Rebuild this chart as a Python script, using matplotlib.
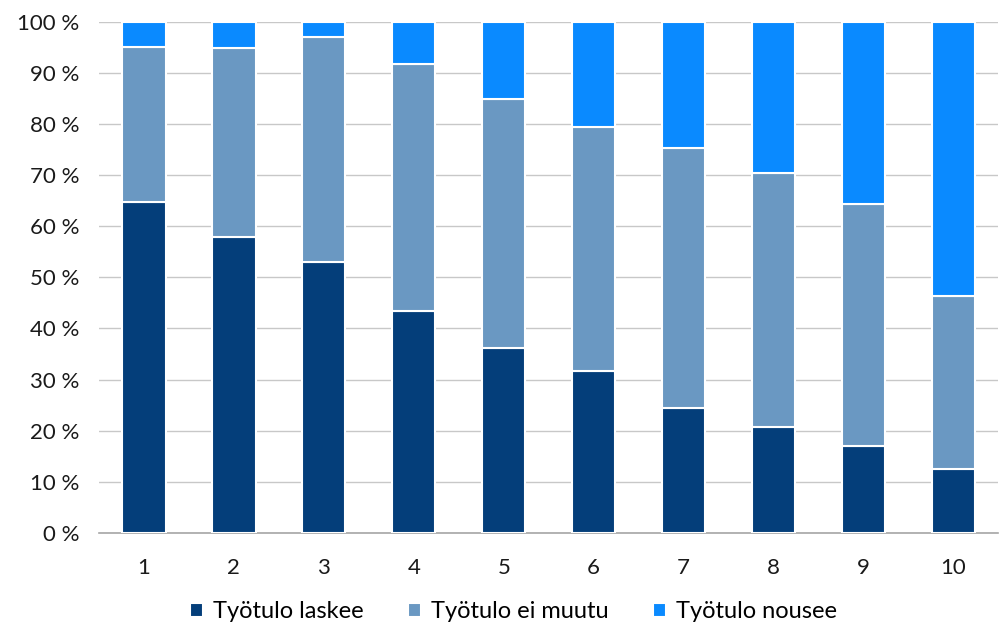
import matplotlib
matplotlib.use("Agg")
import matplotlib.pyplot as plt
import numpy as np
from matplotlib.ticker import FuncFormatter

plt.rcParams["font.family"] = ["Lato", "DejaVu Sans"]

deciles = ["1", "2", "3", "4", "5", "6", "7", "8", "9", "10"]
laskee = [64.8, 57.9, 53.0, 43.4, 36.2, 31.7, 24.5, 20.7, 17.0, 12.6]
ei_muutu = [30.3, 37.0, 44.1, 48.4, 48.7, 47.8, 50.8, 49.8, 47.4, 33.8]
nousee = [100 - a - b for a, b in zip(laskee, ei_muutu)]
labels = ["Työtulo laskee", "Työtulo ei muutu", "Työtulo nousee"]
colors = ["#043e7a", "#6a98c2", "#0a8aff"]

fig = plt.figure(figsize=(10.05, 6.24), dpi=100)
ax = fig.add_axes([0.0985, 0.146, 0.895, 0.819])

x = np.arange(1, len(deciles) + 1)
bottom = np.zeros(len(deciles))
for vals, lab, c in zip([laskee, ei_muutu, nousee], labels, colors):
    ax.bar(x, vals, width=0.48, bottom=bottom, color=c, edgecolor="white",
           linewidth=1.5, label=lab, zorder=3)
    bottom += np.array(vals)

ax.set_xlim(0.5, 10.5)
ax.set_ylim(0, 100)
ax.set_yticks(np.arange(0, 101, 10))
ax.yaxis.set_major_formatter(FuncFormatter(lambda v, p: f"{v:.0f} %"))
ax.set_xticks(x, deciles)
ax.grid(axis="y", color="#c8c8c8", lw=1.0, zorder=0)
for s in ["top", "right", "left"]:
    ax.spines[s].set_visible(False)
ax.spines["bottom"].set_color("#a6a6a6")
ax.spines["bottom"].set_linewidth(1.2)
ax.tick_params(axis="both", length=0, labelsize=16, colors="#1a1a1a")
ax.tick_params(axis="x", pad=18)
ax.tick_params(axis="y", pad=14)

fig.legend(*ax.get_legend_handles_labels(), loc="center",
           bbox_to_anchor=(0.511, 0.02), ncol=3, frameon=False, fontsize=17,
           handlelength=0.55, handleheight=0.55, handletextpad=0.4,
           columnspacing=1.9)

fig.savefig("out.png", dpi=100)
